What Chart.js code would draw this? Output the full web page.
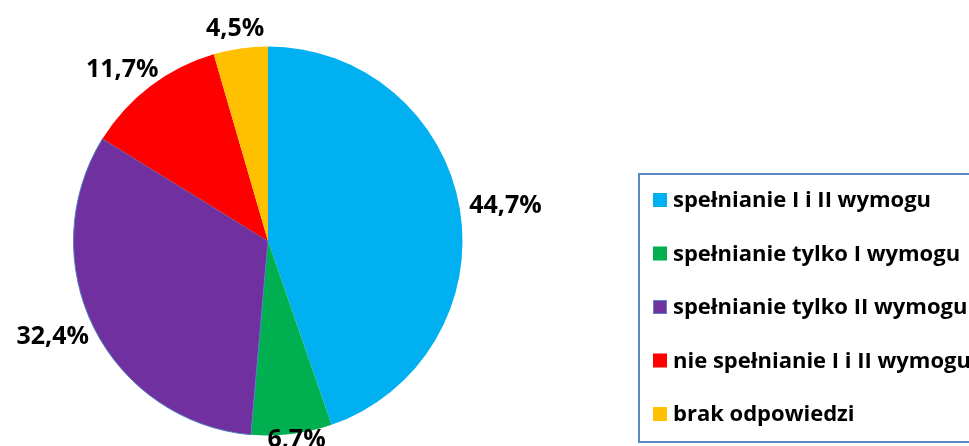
<!DOCTYPE html>
<html>
<head>
<meta charset="utf-8">
<script src="https://cdn.jsdelivr.net/npm/chart.js@4"></script>
<style>
  html, body { margin: 0; padding: 0; background: #fff; overflow: hidden; }
  #wrap { width: 969px; height: 446px; }
</style>
</head>
<body>
<div id="wrap"><canvas id="placeholder1" width="969" height="446"></canvas></div>
<script>
const categories = [
    'spełnianie I i II wymogu',
    'spełnianie tylko I wymogu',
    'spełnianie tylko II wymogu',
    'nie spełnianie I i II wymogu',
    'brak odpowiedzi'
];
const shares = [44.7, 6.7, 32.4, 11.7, 4.5];
const sliceColors = ['#00b0f0', '#00b050', '#7030a0', '#ff0000', '#ffc000'];

const FONT = '"Open Sans", "Liberation Sans", sans-serif';

// etykiety procentowe na zewnątrz wycinków
const outsideLabels = {
    id: 'outsideLabels',
    afterDatasetsDraw(chart) {
        const c = chart.ctx;
        const meta = chart.getDatasetMeta(0);
        c.save();
        c.font = 'bold 25px ' + FONT;
        c.fillStyle = '#000';
        c.textAlign = 'center';
        c.textBaseline = 'middle';
        meta.data.forEach((arc, i) => {
            const p = arc.getProps(['x', 'y', 'startAngle', 'endAngle', 'outerRadius'], true);
            const mid = (p.startAngle + p.endAngle) / 2;
            const txt = shares[i].toFixed(1).replace('.', ',') + '%';
            const w = c.measureText(txt).width;
            const cos = Math.cos(mid), sin = Math.sin(mid);
            const d = p.outerRadius + 10;
            let x = p.x + cos * d + cos * w / 2;
            let y = p.y + sin * d + sin * 10;
            y = Math.max(27, Math.min(chart.height - 6, y));
            c.fillText(txt, x, y);
        });
        c.restore();
    }
};

// legenda w ramce po prawej
const boxLegend = {
    id: 'boxLegend',
    afterDraw(chart) {
        const c = chart.ctx;
        const ds = chart.data.datasets[0];
        c.save();
        c.strokeStyle = '#5b87c5';
        c.lineWidth = 2;
        c.strokeRect(639, 174, 400, 268);
        c.font = 'bold 22px ' + FONT;
        c.textBaseline = 'middle';
        c.textAlign = 'left';
        chart.data.labels.forEach((lab, i) => {
            const y = 200 + i * 53.5;
            c.fillStyle = ds.backgroundColor[i];
            c.fillRect(653, y - 7, 14, 14);
            if (ds.borderWidth[i] > 0) {
                c.strokeStyle = '#5b87c5';
                c.lineWidth = 1;
                c.strokeRect(653.5, y - 6.5, 13, 13);
            }
            c.fillStyle = '#000';
            c.fillText(lab, 673, y + 1);
        });
        c.restore();
    }
};

const data = {
    labels: categories,
    datasets: [
        {
            data: shares,
            backgroundColor: sliceColors,
            borderColor: '#4f81bd',
            borderWidth: [0, 0, 1, 0, 0]
        }
    ]
};

const config = {
    type: 'pie',
    data: data,
    options: {
        responsive: false,
        animation: false,
        layout: {
            padding: { left: 73, right: 506, top: 46, bottom: 10 }
        },
        plugins: {
            legend: { display: false },
            tooltip: { enabled: false }
        }
    },
    plugins: [outsideLabels, boxLegend]
};

const pieChart = new Chart(document.getElementById('placeholder1'), config);
</script>
</body>
</html>
